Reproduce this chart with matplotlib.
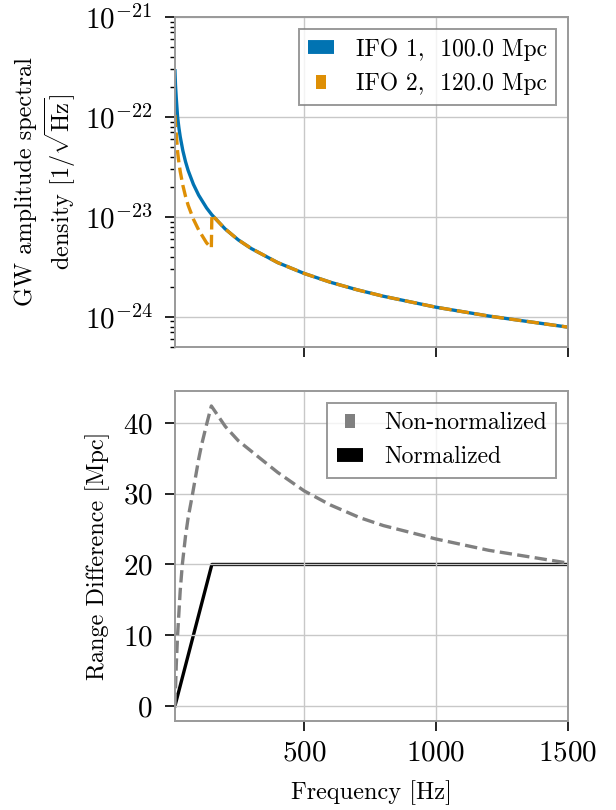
import matplotlib
matplotlib.use('Agg')
import matplotlib.pyplot as plt
from matplotlib.lines import Line2D
from matplotlib.ticker import LogLocator, NullFormatter, NullLocator

plt.rcParams['font.family'] = 'cmr10'
plt.rcParams['mathtext.fontset'] = 'cm'
plt.rcParams['axes.formatter.use_mathtext'] = True

# ASD curves
freq1 = [10, 12, 15, 20, 25, 30, 40, 50, 60, 80, 100, 130, 150, 200, 250, 300,
         400, 500, 600, 700, 800, 1000, 1200, 1500]
asd1 = [2.9e-22, 2.1e-22, 1.55e-22, 1.0e-22, 7.8e-23, 6.35e-23, 4.6e-23, 3.58e-23,
        2.92e-23, 2.12e-23, 1.65e-23, 1.23e-23, 1.05e-23, 7.6e-24, 5.9e-24, 4.82e-24,
        3.49e-24, 2.72e-24, 2.22e-24, 1.87e-24, 1.61e-24, 1.25e-24, 1.02e-24, 7.9e-25]

freq2 = [10, 12, 15, 20, 25, 30, 40, 50, 60, 80, 100, 130, 148, 150, 200, 250, 300,
         400, 500, 600, 700, 800, 1000, 1200, 1500]
asd2 = [1.05e-22, 8.5e-23, 6.8e-23, 4.5e-23, 3.5e-23, 2.85e-23, 2.07e-23, 1.61e-23,
        1.31e-23, 9.5e-24, 7.4e-24, 5.5e-24, 4.9e-24, 1.05e-23, 7.6e-24, 5.9e-24, 4.82e-24,
        3.49e-24, 2.72e-24, 2.22e-24, 1.87e-24, 1.61e-24, 1.25e-24, 1.02e-24, 7.9e-25]

# range differences [Mpc]
freq_nn = [10, 15, 20, 30, 38, 50, 60, 76, 100, 111, 130, 148, 201, 250, 333, 400,
           500, 600, 712, 800, 1000, 1200, 1500]
diff_nn = [0, 5.8, 10, 16.3, 20, 24, 26.6, 29.8, 34.9, 36.9, 39.8, 42.4, 39.5, 37.5,
           35.0, 33.0, 30.4, 28.4, 26.6, 25.5, 23.6, 22.0, 20.2]
freq_n = [10, 150, 1500]
diff_n = [0, 20, 20]

blue = '#0173b2'
orange = '#de8f05'
gray = '#808080'
spine_c = '#999999'

fig = plt.figure(figsize=(6.16, 8.10), dpi=100)
ax1 = fig.add_axes([0.284, 0.5716, 0.638, 0.4074])
ax2 = fig.add_axes([0.284, 0.1099, 0.638, 0.4074], sharex=ax1)

ax1.plot(freq1, asd1, color=blue, lw=2.4)
ax1.plot(freq2, asd2, color=orange, lw=2.4, ls='--')
ax1.set_yscale('log')
ax1.set_ylim(5e-25, 1e-21)
ax1.set_xlim(10, 1500)
ax1.yaxis.set_major_locator(LogLocator(base=10, numticks=10))
ax1.yaxis.set_minor_locator(LogLocator(base=10, subs=range(2, 10), numticks=20))
ax1.yaxis.set_minor_formatter(NullFormatter())
ax1.set_ylabel('GW amplitude spectral\ndensity [$1/\\sqrt{\\mathrm{Hz}}$]', fontsize=17.5,
               labelpad=5)
ax1.tick_params(labelbottom=False)

ax2.plot(freq_nn, diff_nn, color=gray, lw=2.4, ls='--')
ax2.plot(freq_n, diff_n, color='black', lw=2.4, zorder=1.4)
ax2.set_yticks([0, 10, 20, 30, 40])
ax2.set_xticks([500, 1000, 1500])
ax2.set_ylabel('Range Difference [Mpc]', fontsize=17.5, labelpad=9)
ax2.set_xlabel('Frequency [Hz]', fontsize=17.5, labelpad=10)

for ax in (ax1, ax2):
    ax.grid(True, color='#c8c8c8', lw=1.0)
    ax.xaxis.set_minor_locator(NullLocator())
    ax.tick_params(which='major', direction='out', length=7, width=1.2, labelsize=21,
                   color='black')
    ax.tick_params(which='minor', direction='out', length=3.5, width=1.0, color='black')
    ax.tick_params(axis='y', which='major', pad=9)
    ax.tick_params(axis='x', which='major', pad=7)
    for s in ax.spines.values():
        s.set_color(spine_c)
        s.set_linewidth(1.4)

# legend handles: wide bar for solid, short bar for dashed
dash_mark = [(-0.32, -0.5), (0.32, -0.5), (0.32, 0.5), (-0.32, 0.5), (-0.32, -0.5)]
h1 = [Line2D([], [], color=blue, lw=10, solid_capstyle='butt'),
      Line2D([], [], color=orange, ls='none', marker=dash_mark, markersize=10.5,
             markeredgewidth=0)]
leg1 = ax1.legend(h1, ['IFO 1,  100.0 Mpc', 'IFO 2,  120.0 Mpc'], loc='upper right',
                  fontsize=17, handlelength=1.1, handletextpad=0.9, fancybox=False,
                  edgecolor=gray, framealpha=0.8, borderaxespad=0.5, labelspacing=0.5,
                  numpoints=1)
leg1.get_frame().set_linewidth(1.4)

h2 = [Line2D([], [], color=gray, ls='none', marker=dash_mark, markersize=10.5,
             markeredgewidth=0),
      Line2D([], [], color='black', lw=10, solid_capstyle='butt')]
leg2 = ax2.legend(h2, ['Non-normalized', 'Normalized'], loc='upper right',
                  fontsize=17, handlelength=1.1, handletextpad=0.9, fancybox=False,
                  edgecolor=gray, framealpha=0.8, borderaxespad=0.5, labelspacing=0.5,
                  numpoints=1)
leg2.get_frame().set_linewidth(1.4)

fig.savefig('out.png', dpi=100)
